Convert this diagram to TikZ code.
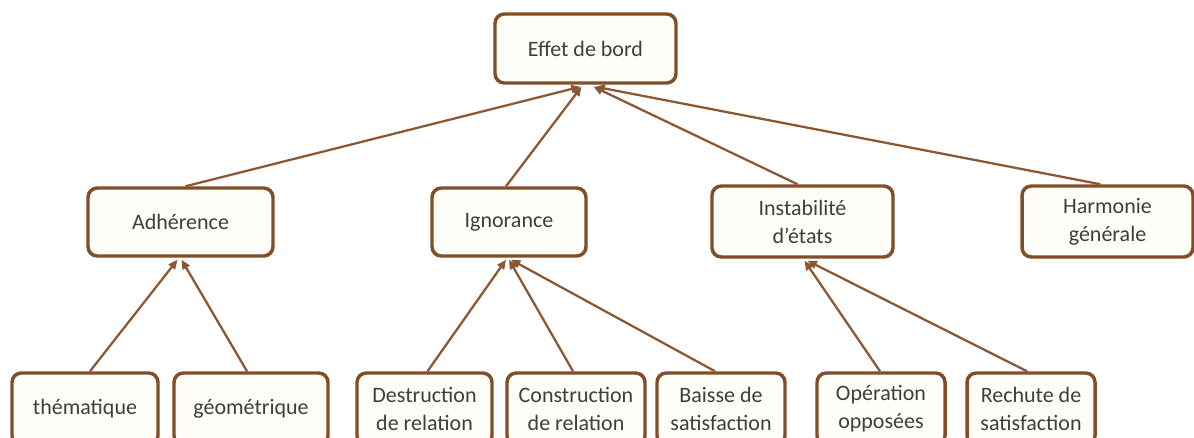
\documentclass[tikz,border=0pt]{standalone}
\usepackage{fontspec}
\setmainfont{Carlito}
\usetikzlibrary{arrows.meta,calc}
\definecolor{boxbrown}{RGB}{130,78,40}
\definecolor{arrbrown}{RGB}{140,88,52}
\definecolor{txtgray}{RGB}{62,62,62}
\definecolor{boxfill}{RGB}{255,253,248}
\tikzset{
  boxnode/.style={draw=boxbrown, line width=2.6pt, rounded corners=7pt, fill=boxfill,
    text=txtgray, align=center, inner sep=0pt,
    font=\fontsize{16.5}{21}\selectfont},
  arr/.style={draw=arrbrown, line width=1.7pt, -{Triangle[length=7pt,width=6pt]}}
}
\begin{document}
\begin{tikzpicture}[x=0.75pt,y=-0.75pt]
\path[use as bounding box, clip] (0,0) rectangle (1194,438);
\fill[white] (0,0) rectangle (1194,438);
% level 0
\node[boxnode, minimum width=181*0.75pt, minimum height=69*0.75pt] (top) at (585.5,48.5) {Effet de bord};
% level 1
\node[boxnode, minimum width=185*0.75pt, minimum height=68*0.75pt] (adh) at (180.5,222) {Adhérence};
\node[boxnode, minimum width=154*0.75pt, minimum height=68*0.75pt] (ign) at (509,222) {Ignorance};
\node[boxnode, minimum width=181*0.75pt, minimum height=71*0.75pt] (inst) at (802.5,221.5) {Instabilité\\d’états};
\node[boxnode, minimum width=171*0.75pt, minimum height=71*0.75pt] (harm) at (1107.5,221.5) {Harmonie\\générale};
% level 2
\node[boxnode, minimum width=146*0.75pt, minimum height=72*0.75pt] (them) at (85,409) {thématique};
\node[boxnode, minimum width=154*0.75pt, minimum height=72*0.75pt] (geom) at (251,409) {géométrique};
\node[boxnode, minimum width=135*0.75pt, minimum height=72*0.75pt] (destr) at (424.5,409) {Destruction\\de relation};
\node[boxnode, minimum width=138*0.75pt, minimum height=72*0.75pt] (constr) at (576,409) {Construction\\de relation};
\node[boxnode, minimum width=128*0.75pt, minimum height=72*0.75pt] (baisse) at (721,409) {Baisse de\\satisfaction};
\node[boxnode, minimum width=128*0.75pt, minimum height=72*0.75pt] (oper) at (881,409) {Opération\\opposées};
\node[boxnode, minimum width=128*0.75pt, minimum height=72*0.75pt] (rech) at (1031,409) {Rechute de\\satisfaction};
% arrows to top
\draw[arr] ($(adh.north)+(5,0)$) -- ($(top.south)+(-5,2)$);
\draw[arr] ($(ign.north)+(-3,0)$) -- ($(top.south)+(-4,2)$);
\draw[arr] ($(inst.north)+(-5,0)$) -- ($(top.south)+(8,2)$);
\draw[arr] ($(harm.north)+(-7,0)$) -- ($(top.south)+(10,2)$);
% arrows to adh
\draw[arr] ($(them.north)+(5,0)$) -- ($(adh.south)+(-3,2)$);
\draw[arr] ($(geom.north)+(-4,0)$) -- ($(adh.south)+(1,2)$);
% arrows to ign
\draw[arr] ($(destr.north)+(3,0)$) -- ($(ign.south)+(-3,2)$);
\draw[arr] ($(constr.north)+(-3,0)$) -- ($(ign.south)+(0,2)$);
\draw[arr] ($(baisse.north)+(-6,0)$) -- ($(ign.south)+(2,2)$);
% arrows to inst
\draw[arr] ($(oper.north)+(-1,0)$) -- ($(inst.south)+(2,2)$);
\draw[arr] ($(rech.north)+(-4,0)$) -- ($(inst.south)+(5,2)$);
\end{tikzpicture}
\end{document}
